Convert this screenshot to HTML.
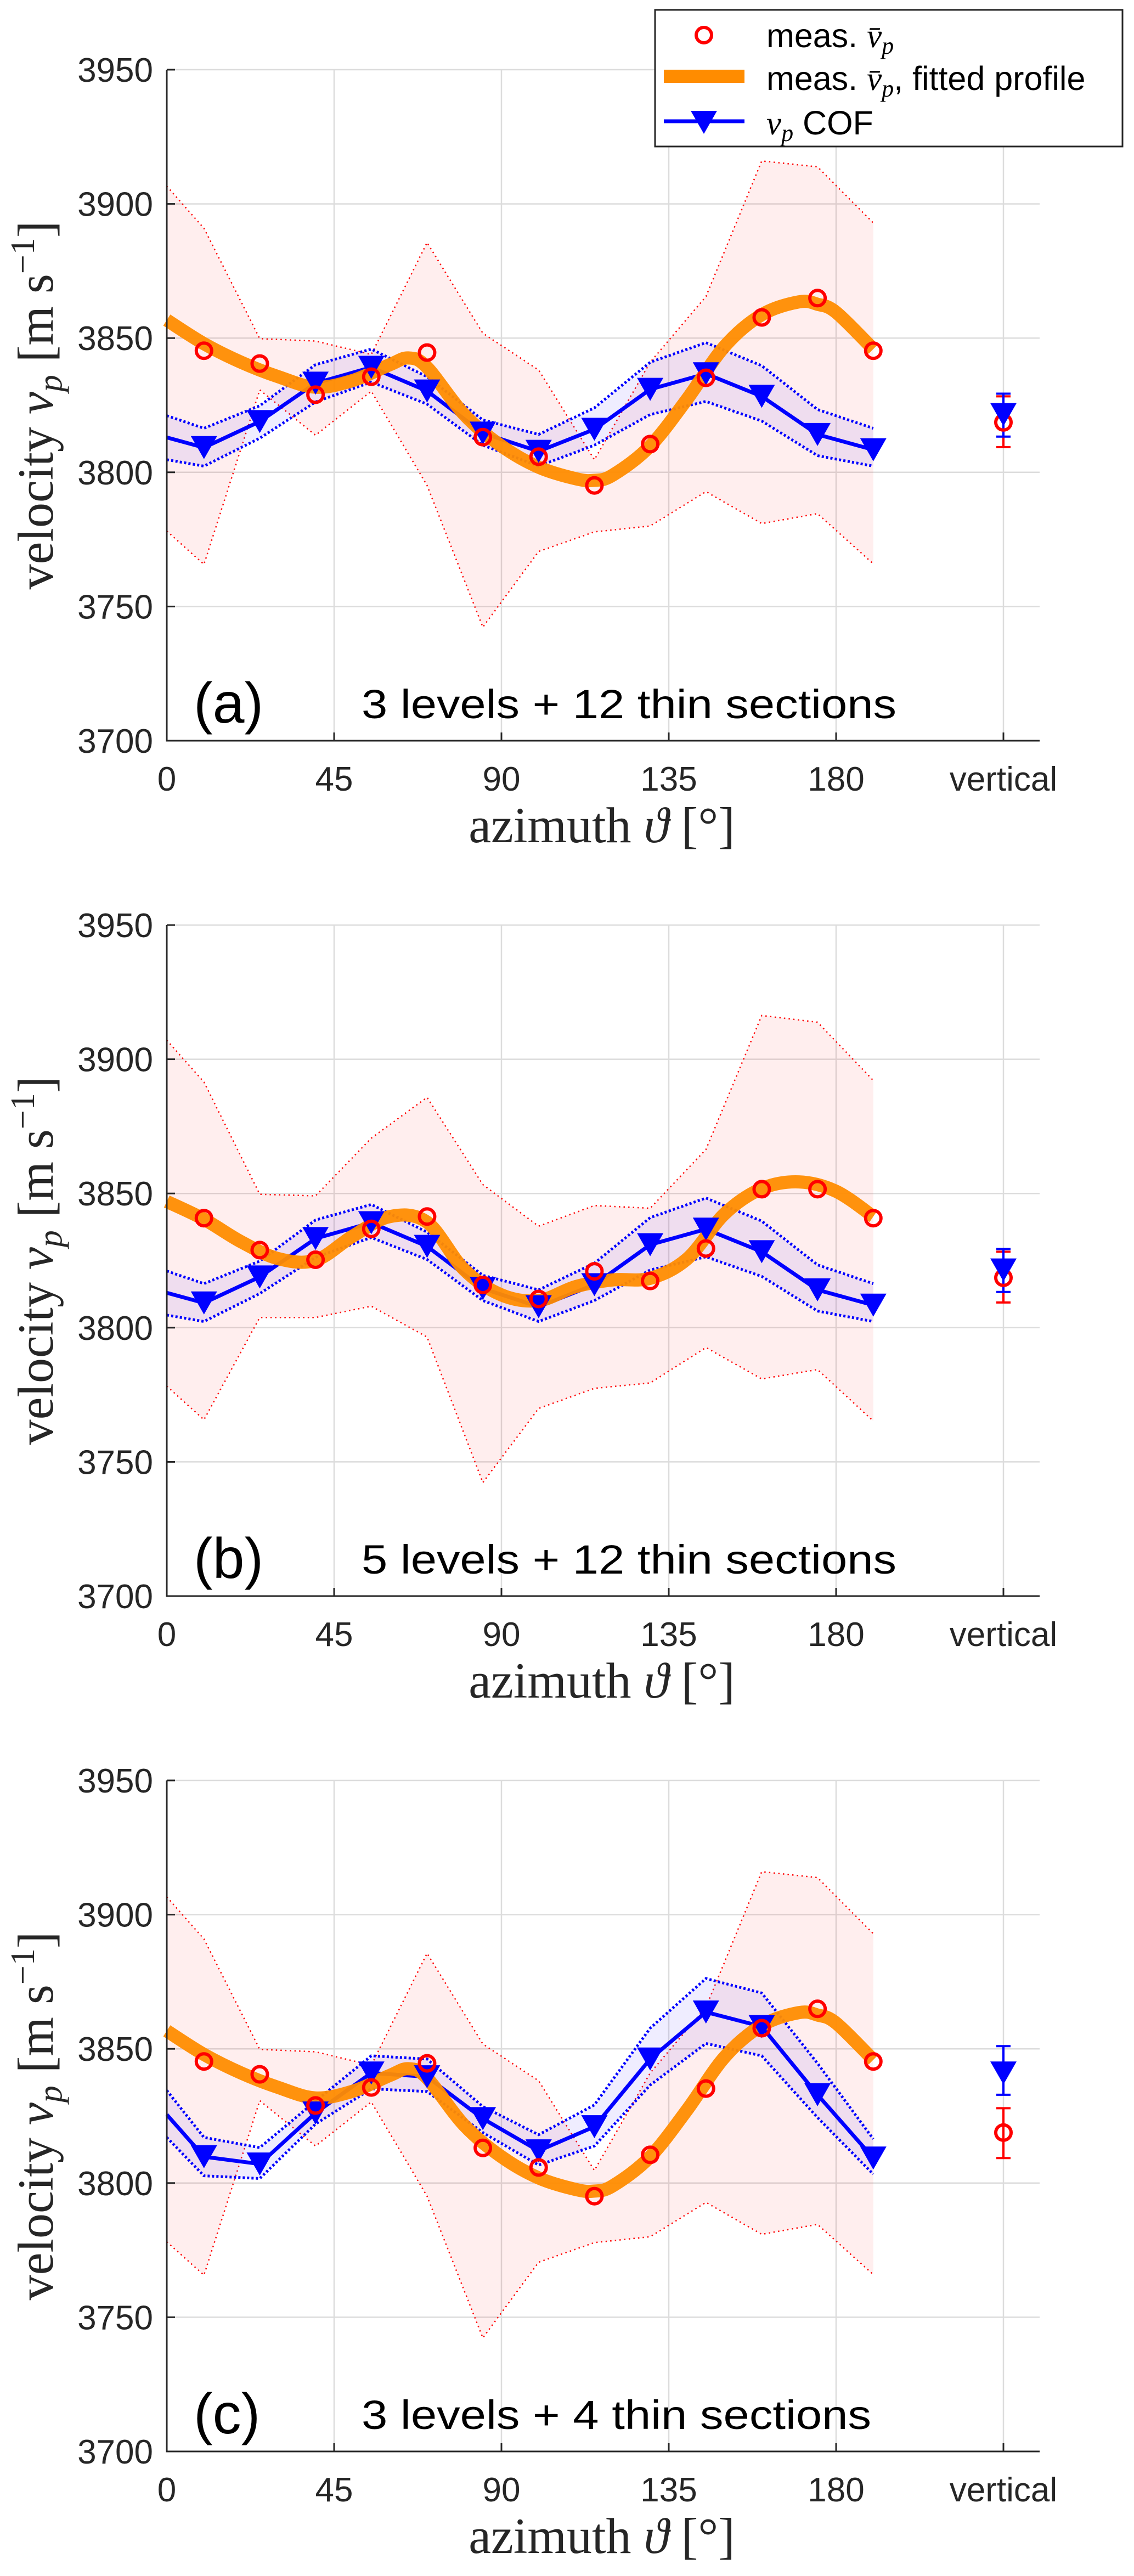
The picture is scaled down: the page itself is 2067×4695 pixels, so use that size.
<!DOCTYPE html>
<html><head><meta charset="utf-8"><style>
html,body{margin:0;padding:0;background:#fff;}
svg{display:block;}
text{font-family:"Liberation Sans",sans-serif;}
.serif{font-family:"Liberation Serif",serif;}
</style></head><body>
<svg id="chart" xmlns="http://www.w3.org/2000/svg" width="2067" height="4695" viewBox="0 0 2067 4695">
<rect x="0" y="0" width="2067" height="4695" fill="#fff"/>
</svg>
<script>
// ---------- data ----------
const xTicks = [0, 45, 90, 135, 180];
const xTickLabels = ["0", "45", "90", "135", "180"];
const yTicks = [3700, 3750, 3800, 3850, 3900, 3950];
const yTickLabels = ["3700", "3750", "3800", "3850", "3900", "3950"];
const verticalPos = 225;
const verticalLabel = "vertical";

const measAz = [10, 25, 40, 55, 70, 85, 100, 115, 130, 145, 160, 175, 190];
const bandAz = [0, 10, 25, 40, 55, 70, 85, 100, 115, 130, 145, 160, 175, 190];
const cofAz = [0, 10, 25, 40, 55, 70, 85, 100, 115, 130, 145, 160, 175, 190];
const fitAzA = [0, 10, 20, 30, 40, 50, 60, 65, 70, 80, 90, 100, 110, 115, 120, 130, 140, 150, 160, 170, 175, 180, 190];
const fitAzB = [0, 10, 20, 30, 40, 50, 60, 70, 80, 90, 100, 110, 120, 130, 140, 150, 160, 170, 180, 190];

// panel (a) / (c) measurements
const measA = [3845.3, 3840.5, 3828.9, 3835.6, 3844.6, 3813.1, 3805.8, 3795.1, 3810.5, 3835.2, 3857.7, 3864.9, 3845.3];
const measBandA1 = [3906.6, 3890.9, 3849.8, 3848.9, 3843.9, 3885.6, 3851.8, 3838.1, 3804.7, 3841.0, 3865.5, 3916.0, 3913.8, 3892.9];
const measBandA2 = [3778.1, 3765.7, 3830.7, 3813.8, 3830.2, 3795.1, 3742.3, 3770.5, 3777.8, 3780.0, 3792.8, 3780.9, 3784.6, 3765.9];
const fitA = [3856.7, 3847.9, 3841.0, 3835.6, 3831.7, 3834.2, 3840.1, 3842.6, 3839.1, 3821.5, 3809.8, 3801.9, 3797.6, 3797.0, 3799.0, 3809.8, 3827.4, 3846.9, 3858.7, 3863.5, 3862.6, 3859.6, 3845.9];

// panel (b) measurements
const measB = [3840.8, 3828.9, 3825.3, 3836.8, 3841.4, 3815.9, 3810.7, 3821.0, 3817.4, 3829.5, 3851.6, 3851.6, 3840.8];
const measBandB1 = [3907.1, 3891.5, 3849.7, 3849.1, 3870.6, 3885.8, 3853.3, 3837.8, 3845.5, 3844.5, 3866.4, 3916.3, 3913.8, 3892.1];
const measBandB2 = [3778.2, 3765.7, 3803.8, 3803.8, 3808.0, 3796.5, 3742.3, 3769.9, 3777.4, 3779.4, 3792.6, 3780.9, 3784.4, 3765.2];
const fitB = [3847.0, 3840.4, 3832.0, 3825.7, 3825.1, 3834.1, 3841.4, 3839.3, 3821.6, 3812.2, 3810.1, 3815.3, 3817.8, 3818.4, 3825.7, 3842.4, 3851.8, 3854.3, 3850.8, 3841.4];

// COF (a)/(b)
const cofAB = [3813.0, 3809.2, 3818.9, 3833.2, 3839.1, 3830.3, 3814.6, 3807.8, 3816.0, 3830.9, 3836.7, 3828.3, 3814.1, 3808.4];
const cofBandAB1 = [3821.1, 3816.4, 3824.8, 3840.1, 3845.9, 3835.6, 3819.5, 3814.1, 3824.0, 3841.0, 3848.3, 3839.7, 3823.4, 3816.4];
const cofBandAB2 = [3804.7, 3802.3, 3812.7, 3826.2, 3833.6, 3825.4, 3810.1, 3802.3, 3810.1, 3821.5, 3826.4, 3819.1, 3806.2, 3802.3];
// COF (c)
const cofC = [3825.5, 3809.8, 3807.1, 3826.1, 3841.0, 3839.6, 3824.0, 3812.0, 3821.0, 3846.2, 3863.7, 3858.3, 3832.9, 3809.3];
const cofBandC1 = [3834.5, 3817.0, 3813.2, 3830.5, 3847.4, 3846.2, 3828.5, 3818.0, 3829.1, 3857.7, 3876.2, 3870.8, 3844.6, 3816.4];
const cofBandC2 = [3817.0, 3802.7, 3801.7, 3822.0, 3835.1, 3834.1, 3818.8, 3806.7, 3813.8, 3836.5, 3852.0, 3847.4, 3824.4, 3803.3];

// vertical values [value, low, high]
const vertMeasAB = [3818.6, 3809.4, 3828.3];
const vertCofAB = [3821.5, 3813.3, 3829.3];
const vertMeasC = [3818.8, 3809.3, 3827.9];
const vertCofC = [3841.0, 3832.9, 3851.0];

const panelLetters = ["(a)", "(b)", "(c)"];
const panelNotes = ["3 levels + 12 thin sections", "5 levels + 12 thin sections", "3 levels + 4 thin sections"];
const panelNoteWidths = [975, 975, 929];

// ---------- drawing ----------
const NS = "http://www.w3.org/2000/svg";
const svg = document.getElementById("chart");
const PX0 = 304, PX1 = 1895, PH = 1223;
function xs(d) { return PX0 + d * (1524 - PX0) / 180; }
function mk(tag, attrs, parent) {
  const e = document.createElementNS(NS, tag);
  for (const k in attrs) e.setAttribute(k, attrs[k]);
  (parent || svg).appendChild(e);
  return e;
}
function smoothPath(pts) {
  let d = "M" + pts[0][0] + "," + pts[0][1];
  for (let i = 0; i < pts.length - 1; i++) {
    const p0 = pts[i - 1] || pts[i], p1 = pts[i], p2 = pts[i + 1], p3 = pts[i + 2] || p2;
    const c1 = [p1[0] + (p2[0] - p0[0]) / 6, p1[1] + (p2[1] - p0[1]) / 6];
    const c2 = [p2[0] - (p3[0] - p1[0]) / 6, p2[1] - (p3[1] - p1[1]) / 6];
    d += " C" + c1[0] + "," + c1[1] + " " + c2[0] + "," + c2[1] + " " + p2[0] + "," + p2[1];
  }
  return d;
}
function tri(g, x, y, name) {
  const t = mk("path", { d: `M${x - 24},${y - 21} L${x + 24},${y - 21} L${x},${y + 21} Z`, fill: "#0000ff" }, g);
  
  
}
function circ(g, x, y, name) {
  const c = mk("circle", { cx: x, cy: y, r: 14, fill: "none", stroke: "#ff0000", "stroke-width": 6 }, g);
  
  
}

const panels = [
  { meas: measA, b1: measBandA1, b2: measBandA2, fitX: fitAzA, fit: fitA, cof: cofAB, c1: cofBandAB1, c2: cofBandAB2, vm: vertMeasAB, vc: vertCofAB },
  { meas: measB, b1: measBandB1, b2: measBandB2, fitX: fitAzB, fit: fitB, cof: cofAB, c1: cofBandAB1, c2: cofBandAB2, vm: vertMeasAB, vc: vertCofAB },
  { meas: measA, b1: measBandA1, b2: measBandA2, fitX: fitAzA, fit: fitA, cof: cofC, c1: cofBandC1, c2: cofBandC2, vm: vertMeasC, vc: vertCofC }
];

panels.forEach((P, k) => {
  const T = 127 + k * 1559, B = T + PH;
  const ys = v => B - (v - 3700) * PH / 250;
  const g = mk("g", {});
  
  

  const grid = mk("g", { stroke: "#dcdcdc", "stroke-width": 2.5 }, g);
  
  
  yTicks.forEach(v => { if (v > 3700) mk("line", { x1: PX0, x2: PX1, y1: ys(v), y2: ys(v) }, grid); });
  xTicks.concat([verticalPos]).forEach(d => { if (d > 0) mk("line", { x1: xs(d), x2: xs(d), y1: T, y2: B }, grid); });

  const rb = bandAz.map((d, i) => [xs(d), ys(P.b1[i])]);
  const rb2 = bandAz.map((d, i) => [xs(d), ys(P.b2[i])]);
  const rf = mk("path", { d: "M" + rb.concat(rb2.slice().reverse()).map(p => p.join(",")).join(" L") + " Z", fill: "#ff0000", "fill-opacity": 0.065, stroke: "none" }, g);
  
  
  [rb, rb2].forEach((pts, j) => {
    const l = mk("polyline", { points: pts.map(p => p.join(",")).join(" "), fill: "none", stroke: "#ff0000", "stroke-width": 2.5, "stroke-dasharray": "2.5 6" }, g);
    
    
  });

  const cb = cofAz.map((d, i) => [xs(d), ys(P.c1[i])]);
  const cb2 = cofAz.map((d, i) => [xs(d), ys(P.c2[i])]);
  const cf = mk("path", { d: "M" + cb.concat(cb2.slice().reverse()).map(p => p.join(",")).join(" L") + " Z", fill: "#4b3cff", "fill-opacity": 0.09, stroke: "none" }, g);
  
  
  [cb, cb2].forEach((pts, j) => {
    const l = mk("polyline", { points: pts.map(p => p.join(",")).join(" "), fill: "none", stroke: "#0000ff", "stroke-width": 5, "stroke-dasharray": "4 4" }, g);
    
    
  });

  const cl = mk("polyline", { points: cofAz.map((d, i) => xs(d) + "," + ys(P.cof[i])).join(" "), fill: "none", stroke: "#0000ff", "stroke-width": 7, "stroke-linejoin": "round" }, g);
  
  

  const fp = mk("path", { d: smoothPath(P.fitX.map((d, i) => [xs(d), ys(P.fit[i])])), fill: "none", stroke: "#ff8c00", "stroke-width": 24, "stroke-opacity": 0.95, "stroke-linecap": "butt" }, g);
  
  

  cofAz.forEach((d, i) => { if (d > 0) tri(g, xs(d), ys(P.cof[i]), 'cof-marker'); });
  measAz.forEach((d, i) => circ(g, xs(d), ys(P.meas[i]), 'measured-marker'));

  const vx = xs(verticalPos);
  [[P.vm, "#ff0000"], [P.vc, "#0000ff"]].forEach(([v, col], j) => {
    const eb = mk("path", { d: `M${vx},${ys(v[1])} L${vx},${ys(v[2])} M${vx - 13},${ys(v[1])} L${vx + 13},${ys(v[1])} M${vx - 13},${ys(v[2])} L${vx + 13},${ys(v[2])}`, stroke: col, "stroke-width": 4, fill: "none" }, g);
    
    
  });
  circ(g, vx, ys(P.vm[0]), 'vertical-measured-marker');
  tri(g, vx, ys(P.vc[0]), 'vertical-cof-marker');

  const ax = mk("path", { d: `M${PX0},${T} L${PX0},${B} L${PX1},${B}`, stroke: "#262626", "stroke-width": 3, fill: "none" }, g);
  
  
  yTicks.forEach((v, i) => {
    mk("line", { x1: PX0, x2: PX0 + 15, y1: ys(v), y2: ys(v), stroke: "#262626", "stroke-width": 3 }, g);
    const t = mk("text", { x: 279, y: ys(v) + 22, "text-anchor": "end", "font-size": 62, fill: "#262626" }, g);
    t.textContent = yTickLabels[i];
    
    
  });
  xTicks.concat([verticalPos]).forEach((d, i) => {
    mk("line", { x1: xs(d), x2: xs(d), y1: B, y2: B - 15, stroke: "#262626", "stroke-width": 3 }, g);
    const t = mk("text", { x: xs(d), y: B + 91, "text-anchor": "middle", "font-size": 62, fill: "#262626" }, g);
    t.textContent = i < xTickLabels.length ? xTickLabels[i] : verticalLabel;
    
    
  });

  const xt = mk("text", { x: 1097, y: B + 185, "text-anchor": "middle", "font-size": 92, fill: "#262626", class: "serif" }, g);
  xt.innerHTML = 'azimuth <tspan font-style="italic">ϑ</tspan> [°]';
  
  
  const yt = mk("text", { x: 0, y: 0, "text-anchor": "middle", "font-size": 92, fill: "#262626", class: "serif", transform: `translate(96,${(T + B) / 2}) rotate(-90)` }, g);
  yt.innerHTML = 'velocity <tspan font-style="italic">v</tspan><tspan font-style="italic" font-size="62" dy="16">p</tspan><tspan dy="-16"> [m s</tspan><tspan font-size="62" dy="-34">−1</tspan><tspan dy="34">]</tspan>';
  
  

  const pl = mk("text", { x: 353, y: T + 1190, "font-size": 104, fill: "#000" }, g);
  pl.textContent = panelLetters[k];
  
  
  const pn = mk("text", { x: 659, y: T + 1182, "font-size": 74, fill: "#000", textLength: panelNoteWidths[k], lengthAdjust: "spacingAndGlyphs" }, g);
  pn.textContent = panelNotes[k];
  
  
});

const lg = mk("g", {});


mk("rect", { x: 1194, y: 18, width: 852, height: 249, fill: "#fff", stroke: "#262626", "stroke-width": 3 }, lg);
circ(lg, 1283, 64, 'legend-measured-marker');
const lo = mk("line", { x1: 1210, x2: 1357, y1: 139, y2: 139, stroke: "#ff8c00", "stroke-width": 24 }, lg);


const lb = mk("line", { x1: 1210, x2: 1357, y1: 221, y2: 221, stroke: "#0000ff", "stroke-width": 7 }, lg);


tri(lg, 1283, 223, 'legend-cof-marker');
const legTexts = [
  [86, 'meas. <tspan class="serif" font-style="italic">v̄</tspan><tspan class="serif" font-style="italic" font-size="44" dy="12">p</tspan>'],
  [164, 'meas. <tspan class="serif" font-style="italic">v̄</tspan><tspan class="serif" font-style="italic" font-size="44" dy="12">p</tspan><tspan dy="-12">, fitted profile</tspan>'],
  [245, '<tspan class="serif" font-style="italic">v</tspan><tspan class="serif" font-style="italic" font-size="44" dy="12">p</tspan><tspan dy="-12"> COF</tspan>']
];
legTexts.forEach(([y, h], i) => {
  const t = mk("text", { x: 1397, y: y, "font-size": 61, fill: "#000" }, lg);
  t.innerHTML = h;
  
  
});
</script>
</body></html>
